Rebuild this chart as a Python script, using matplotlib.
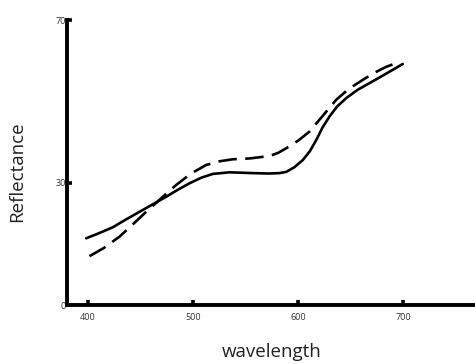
import matplotlib
matplotlib.use("Agg")
import matplotlib.pyplot as plt

solid_x = [398.3, 410, 423.6, 436, 449.0, 462, 474.4, 486, 496.5, 508, 518.7, 534.5, 556.7, 572, 582.1, 588.5, 596, 604.2, 611, 617.0, 623, 629.6, 637, 645.5, 656, 667.7, 684, 699.3]
solid_y = [16.4, 17.6, 19.1, 21.0, 22.9, 24.8, 26.6, 28.4, 29.9, 31.3, 32.2, 32.6, 32.4, 32.3, 32.4, 32.7, 33.8, 35.6, 37.8, 40.5, 43.6, 46.3, 48.8, 50.8, 52.8, 54.5, 56.9, 59.2]

dash_x = [401.4, 415, 430.0, 443, 455.3, 470, 483.9, 498, 512.4, 525, 537.7, 553.6, 572.6, 581, 588.5, 600, 610.6, 623, 636.0, 648, 661.3, 672, 683.5, 695]
dash_y = [12.0, 14.0, 16.8, 19.9, 22.9, 26.3, 29.5, 32.3, 34.4, 35.3, 35.8, 36.0, 36.6, 37.4, 38.5, 40.4, 42.6, 46.4, 50.4, 53.1, 55.3, 57.0, 58.5, 59.6]

xticks = [400, 500, 600, 700]
yticks = [0, 30, 70]

plt.rcParams['font.family'] = ['Open Sans', 'DejaVu Sans']

fig = plt.figure(figsize=(4.75, 3.64), dpi=100)
ax = fig.add_axes([0.141, 0.162, 0.859, 0.783])

ax.plot(solid_x, solid_y, color='black', lw=1.9, solid_joinstyle='round', solid_capstyle='round')
ln, = ax.plot(dash_x, dash_y, color='black', lw=1.9, dash_joinstyle='round')
ln.set_dashes([7, 3.2])

ax.set_xlim(380, 768)
ax.set_ylim(0, 70)
ax.set_xticks(xticks)
ax.set_yticks(yticks)
ax.tick_params(direction='in', length=3.4, width=2.6, labelsize=6.5, labelcolor='#333333')
ax.tick_params(axis='x', pad=6)
ax.tick_params(axis='y', pad=1)

for s in ['top', 'right']:
    ax.spines[s].set_visible(False)
for s in ['left', 'bottom']:
    ax.spines[s].set_linewidth(2.8)

ax.set_xlabel('wavelength', fontsize=13.5, color='#222222')
ax.set_ylabel('Reflectance', fontsize=13.5, color='#222222')
ax.xaxis.set_label_coords(0.502, -0.133)
ax.yaxis.set_label_coords(-0.100, 0.467)

fig.savefig('out.png', dpi=100)
